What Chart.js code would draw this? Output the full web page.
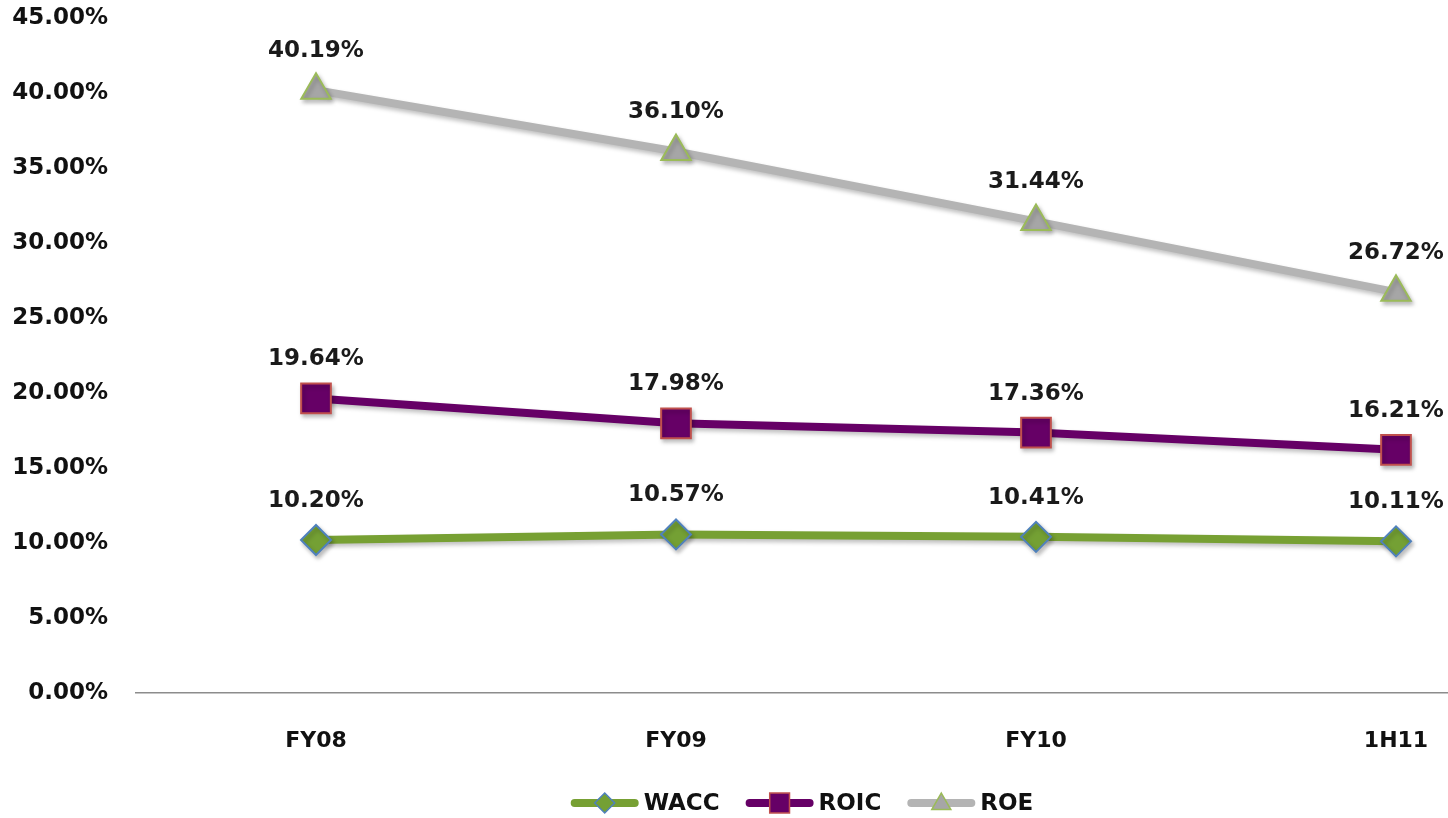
<!DOCTYPE html>
<html>
<head>
<meta charset="utf-8">
<script src="https://cdn.jsdelivr.net/npm/chart.js@4/dist/chart.umd.min.js"></script>
<style>
  html, body { margin: 0; padding: 0; background: #fff; overflow: hidden; }
  #wrap { width: 1448px; height: 818px; overflow: hidden; position: relative; }
  #box { width: 1594px; height: 818px; position: absolute; left: 0; top: 0; }
</style>
</head>
<body>
<div id="wrap"><div id="box"><canvas id="c"></canvas></div></div>
<script>
// Return measures by period (percent)
const categories = ['FY08', 'FY09', 'FY10', '1H11'];
const waccValues = [10.20, 10.57, 10.41, 10.11];
const roicValues = [19.64, 17.98, 17.36, 16.21];
const roeValues  = [40.19, 36.10, 31.44, 26.72];
const seriesNames = ['WACC', 'ROIC', 'ROE'];
const yMin = 0, yMax = 45, yStep = 5;

const FONT = '"DejaVu Sans", Verdana, sans-serif';

// Value labels above every point
const valueLabels = {
  id: 'valueLabels',
  afterDatasetsDraw(chart) {
    const ctx = chart.ctx;
    ctx.save();
    ctx.font = 'bold 23px ' + FONT;
    ctx.fillStyle = '#1a1a1a';
    ctx.textAlign = 'center';
    ctx.textBaseline = 'middle';
    chart.data.datasets.forEach((ds, di) => {
      chart.getDatasetMeta(di).data.forEach((pt, i) => {
        ctx.fillText(ds.data[i].toFixed(2) + '%', pt.x, pt.y - 39);
      });
    });
    ctx.restore();
  }
};

// Soft drop shadow under lines and markers
const dropShadow = {
  id: 'dropShadow',
  beforeDatasetDraw(chart) {
    const ctx = chart.ctx;
    ctx.save();
    ctx.shadowColor = 'rgba(0,0,0,0.25)';
    ctx.shadowBlur = 4;
    ctx.shadowOffsetX = 2;
    ctx.shadowOffsetY = 3;
  },
  afterDatasetDraw(chart) {
    chart.ctx.restore();
  }
};

function markerPath(ctx, style, x, y, r) {
  ctx.beginPath();
  if (style === 'rectRot') {
    ctx.moveTo(x, y - r); ctx.lineTo(x + r, y); ctx.lineTo(x, y + r); ctx.lineTo(x - r, y);
  } else if (style === 'rect') {
    const s = r * Math.SQRT1_2;
    ctx.rect(x - s, y - s, 2 * s, 2 * s);
  } else {
    const h = r * Math.sqrt(3) / 2;
    ctx.moveTo(x, y - r); ctx.lineTo(x + h, y + r / 2); ctx.lineTo(x - h, y + r / 2);
  }
  ctx.closePath();
}

// Legend with a line sample and a marker for each series
const lineLegend = {
  id: 'lineLegend',
  afterDraw(chart) {
    const ctx = chart.ctx;
    ctx.save();
    ctx.font = 'bold 23px ' + FONT;
    const sampleW = 68, textGap = 5, itemGap = 26, cy = 803;
    const items = chart.data.datasets.map(ds => ({ ds, tw: ctx.measureText(ds.label).width }));
    const total = items.reduce((s, it) => s + sampleW + textGap + it.tw, 0) + itemGap * (items.length - 1);
    let x = chart.width / 2 + 5 - total / 2;
    items.forEach(({ ds, tw }) => {
      ctx.lineCap = 'round';
      ctx.strokeStyle = ds.borderColor;
      ctx.lineWidth = 8;
      ctx.beginPath();
      ctx.moveTo(x + 4, cy); ctx.lineTo(x + sampleW - 4, cy);
      ctx.stroke();
      const mx = x + sampleW / 2;
      const r = ds.pointStyle === 'rect' ? 14 : (ds.pointStyle === 'triangle' ? 11 : 10);
      const my = ds.pointStyle === 'triangle' ? cy + 1 : cy;
      markerPath(ctx, ds.pointStyle, mx, my, r);
      ctx.fillStyle = ds.pointBackgroundColor;
      ctx.fill();
      ctx.lineWidth = 1.5;
      ctx.strokeStyle = ds.pointBorderColor;
      ctx.stroke();
      ctx.fillStyle = '#111';
      ctx.textAlign = 'left';
      ctx.textBaseline = 'middle';
      ctx.fillText(ds.label, x + sampleW + textGap, cy + 1);
      x += sampleW + textGap + tw + itemGap;
    });
    ctx.restore();
  }
};

new Chart(document.getElementById('c'), {
  type: 'line',
  data: {
    labels: categories,
    datasets: [
      {
        label: seriesNames[0], data: waccValues,
        borderColor: '#77A033', borderWidth: 8,
        pointStyle: 'rectRot', pointRadius: 15, pointHoverRadius: 15,
        pointBackgroundColor: '#74A034', pointBorderColor: '#4F81BD', pointBorderWidth: 2,
        tension: 0, clip: false
      },
      {
        label: seriesNames[1], data: roicValues,
        borderColor: '#660066', borderWidth: 8,
        pointStyle: 'rect', pointRadius: 21, pointHoverRadius: 21,
        pointBackgroundColor: '#660066', pointBorderColor: '#C0504D', pointBorderWidth: 2,
        tension: 0, clip: false
      },
      {
        label: seriesNames[2], data: roeValues,
        borderColor: '#B4B4B4', borderWidth: 8,
        pointStyle: 'triangle', pointRadius: 17, pointHoverRadius: 17,
        pointBackgroundColor: '#A6A6A6', pointBorderColor: '#9BBB59', pointBorderWidth: 2,
        tension: 0, clip: false
      }
    ]
  },
  options: {
    responsive: true,
    maintainAspectRatio: false,
    animation: false,
    devicePixelRatio: 1,
    layout: { autoPadding: false, padding: { left: 0, right: 18, top: 18, bottom: 0 } },
    plugins: {
      legend: { display: false },
      tooltip: { enabled: false }
    },
    scales: {
      x: {
        type: 'category',
        offset: true,
        grid: { display: false, drawTicks: false },
        border: { display: true, color: '#8c8c8c', width: 1.5 },
        ticks: { color: '#111', padding: 35, font: { family: FONT, size: 22, weight: 'bold' } },
        afterFit(scale) { scale.height = 125; }
      },
      y: {
        min: yMin, max: yMax,
        grid: { display: false, drawTicks: false },
        border: { display: false },
        ticks: {
          stepSize: yStep,
          color: '#111',
          padding: 28,
          font: { family: FONT, size: 23, weight: 'bold' },
          callback: v => v.toFixed(2) + '%'
        },
        afterFit(scale) {
          scale.width = 136;
          scale.paddingTop = 0;
          scale.paddingBottom = 0;
        }
      }
    }
  },
  plugins: [dropShadow, valueLabels, lineLegend]
});
</script>
</body>
</html>
